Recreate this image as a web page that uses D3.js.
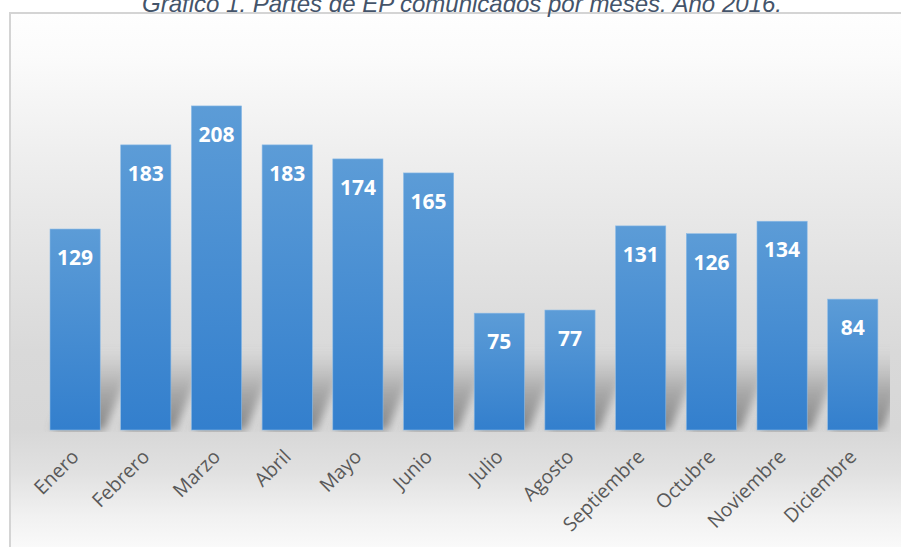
<!DOCTYPE html>
<html>
<head>
<meta charset="utf-8">
<script src="https://cdn.jsdelivr.net/npm/d3@7"></script>
<style>
  html, body { margin: 0; padding: 0; background: #fff; }
  svg { display: block; }
</style>
</head>
<body>
<svg id="chart" width="901" height="547"></svg>
<script>
// Monthly counts of reported EP cases, 2016
const months = ["Enero", "Febrero", "Marzo", "Abril", "Mayo", "Junio", "Julio",
  "Agosto", "Septiembre", "Octubre", "Noviembre", "Diciembre"];
const partes = [129, 183, 208, 183, 174, 165, 75, 77, 131, 126, 134, 84];
const title = "Gráfico 1. Partes de EP comunicados por meses. Año 2016.";

const W = 901, H = 547;
const svg = d3.select("#chart");
const defs = svg.append("defs");

// Chart area background: white at top, grey band behind the bars, fading out below
const bg = defs.append("linearGradient").attr("id", "bgGrad")
  .attr("x1", 0).attr("y1", 0).attr("x2", 0).attr("y2", 1);
[[0, "#fefefe"], [0.08, "#fbfbfb"], [0.25, "#efefef"], [0.45, "#e3e3e3"],
 [0.62, "#d9d9d9"], [0.76, "#d7d7d7"], [0.84, "#e1e1e1"], [0.92, "#f1f1f1"], [1, "#fdfdfd"]]
  .forEach(([o, c]) => bg.append("stop").attr("offset", o).attr("stop-color", c));

// Bar fill: lighter blue on top, deeper towards the base
const barGrad = defs.append("linearGradient").attr("id", "barGrad")
  .attr("x1", 0).attr("y1", 0).attr("x2", 0).attr("y2", 1);
barGrad.append("stop").attr("offset", 0).attr("stop-color", "#5c9cd7");
barGrad.append("stop").attr("offset", 1).attr("stop-color", "#337fcd");

// Cast shadow: dark at the floor, vanishing upwards
const shGrad = defs.append("linearGradient").attr("id", "shGrad")
  .attr("x1", 0).attr("y1", 1).attr("x2", 0).attr("y2", 0);
shGrad.append("stop").attr("offset", 0).attr("stop-color", "#6e6e6e").attr("stop-opacity", 0.8);
shGrad.append("stop").attr("offset", 0.5).attr("stop-color", "#7e7e7e").attr("stop-opacity", 0.5);
shGrad.append("stop").attr("offset", 1).attr("stop-color", "#999").attr("stop-opacity", 0);
defs.append("filter").attr("id", "blur").attr("x", "-50%").attr("y", "-50%")
  .attr("width", "200%").attr("height", "200%")
  .append("feGaussianBlur").attr("stdDeviation", 4);

const frame = { x: 10, y: 13, w: W, h: H };
svg.append("rect")
  .attr("x", frame.x).attr("y", frame.y)
  .attr("width", frame.w).attr("height", frame.h)
  .attr("fill", "url(#bgGrad)")
  .attr("stroke", "#d4d4d4").attr("stroke-width", 2);

defs.append("clipPath").attr("id", "plotClip")
  .append("rect").attr("x", 14).attr("y", 15).attr("width", 876).attr("height", 417);

// Scales
const x = d3.scaleBand().domain(months).range([39.4, 888.5])
  .paddingInner(0.29).paddingOuter(0.15);
const y = d3.scaleLinear().domain([0, 250]).range([430, 430 - 250 * 1.558]);
const base = y(0);

// Skewed shadows cast behind the bars
const shadowH = 80, skew = 34;
svg.append("g").attr("clip-path", "url(#plotClip)")
  .selectAll("path").data(months).join("path")
  .attr("d", m => {
    const x0 = x(m) + 2, x1 = x(m) + x.bandwidth() + 4;
    return `M${x0},${base} L${x1},${base} L${x1 + skew},${base - shadowH} L${x0 + skew},${base - shadowH} Z`;
  })
  .attr("fill", "url(#shGrad)")
  .attr("filter", "url(#blur)");

// Bars
svg.append("g").selectAll("rect").data(months).join("rect")
  .attr("x", m => x(m))
  .attr("y", (m, i) => y(partes[i]))
  .attr("width", x.bandwidth())
  .attr("height", (m, i) => base - y(partes[i]))
  .attr("fill", "url(#barGrad)")
  .attr("stroke", "#8dbbe6").attr("stroke-width", 0.6);

// Value labels inside the top of each bar
svg.append("g").selectAll("text").data(months).join("text")
  .attr("x", m => x(m) + x.bandwidth() / 2)
  .attr("y", (m, i) => y(partes[i]) + 36)
  .attr("text-anchor", "middle")
  .attr("font-family", "'Open Sans', sans-serif")
  .attr("font-weight", 700)
  .attr("font-size", 21)
  .attr("fill", "#ffffff")
  .text((m, i) => partes[i]);

// Month axis labels, rotated 45°
svg.append("g").selectAll("text").data(months).join("text")
  .attr("transform", m => `translate(${x(m) + x.bandwidth() / 2 + 5},${base + 28}) rotate(-45)`)
  .attr("text-anchor", "end")
  .attr("font-family", "'Open Sans', sans-serif")
  .attr("font-size", 19.5)
  .attr("fill", "#595959")
  .text(m => m);

// Title, partly above the frame
svg.append("text")
  .attr("x", 462).attr("y", 12)
  .attr("text-anchor", "middle")
  .attr("font-family", "'Liberation Sans', Arial, sans-serif")
  .attr("font-style", "italic")
  .attr("font-size", 24)
  .attr("fill", "#44546a")
  .text(title);
</script>
</body>
</html>
